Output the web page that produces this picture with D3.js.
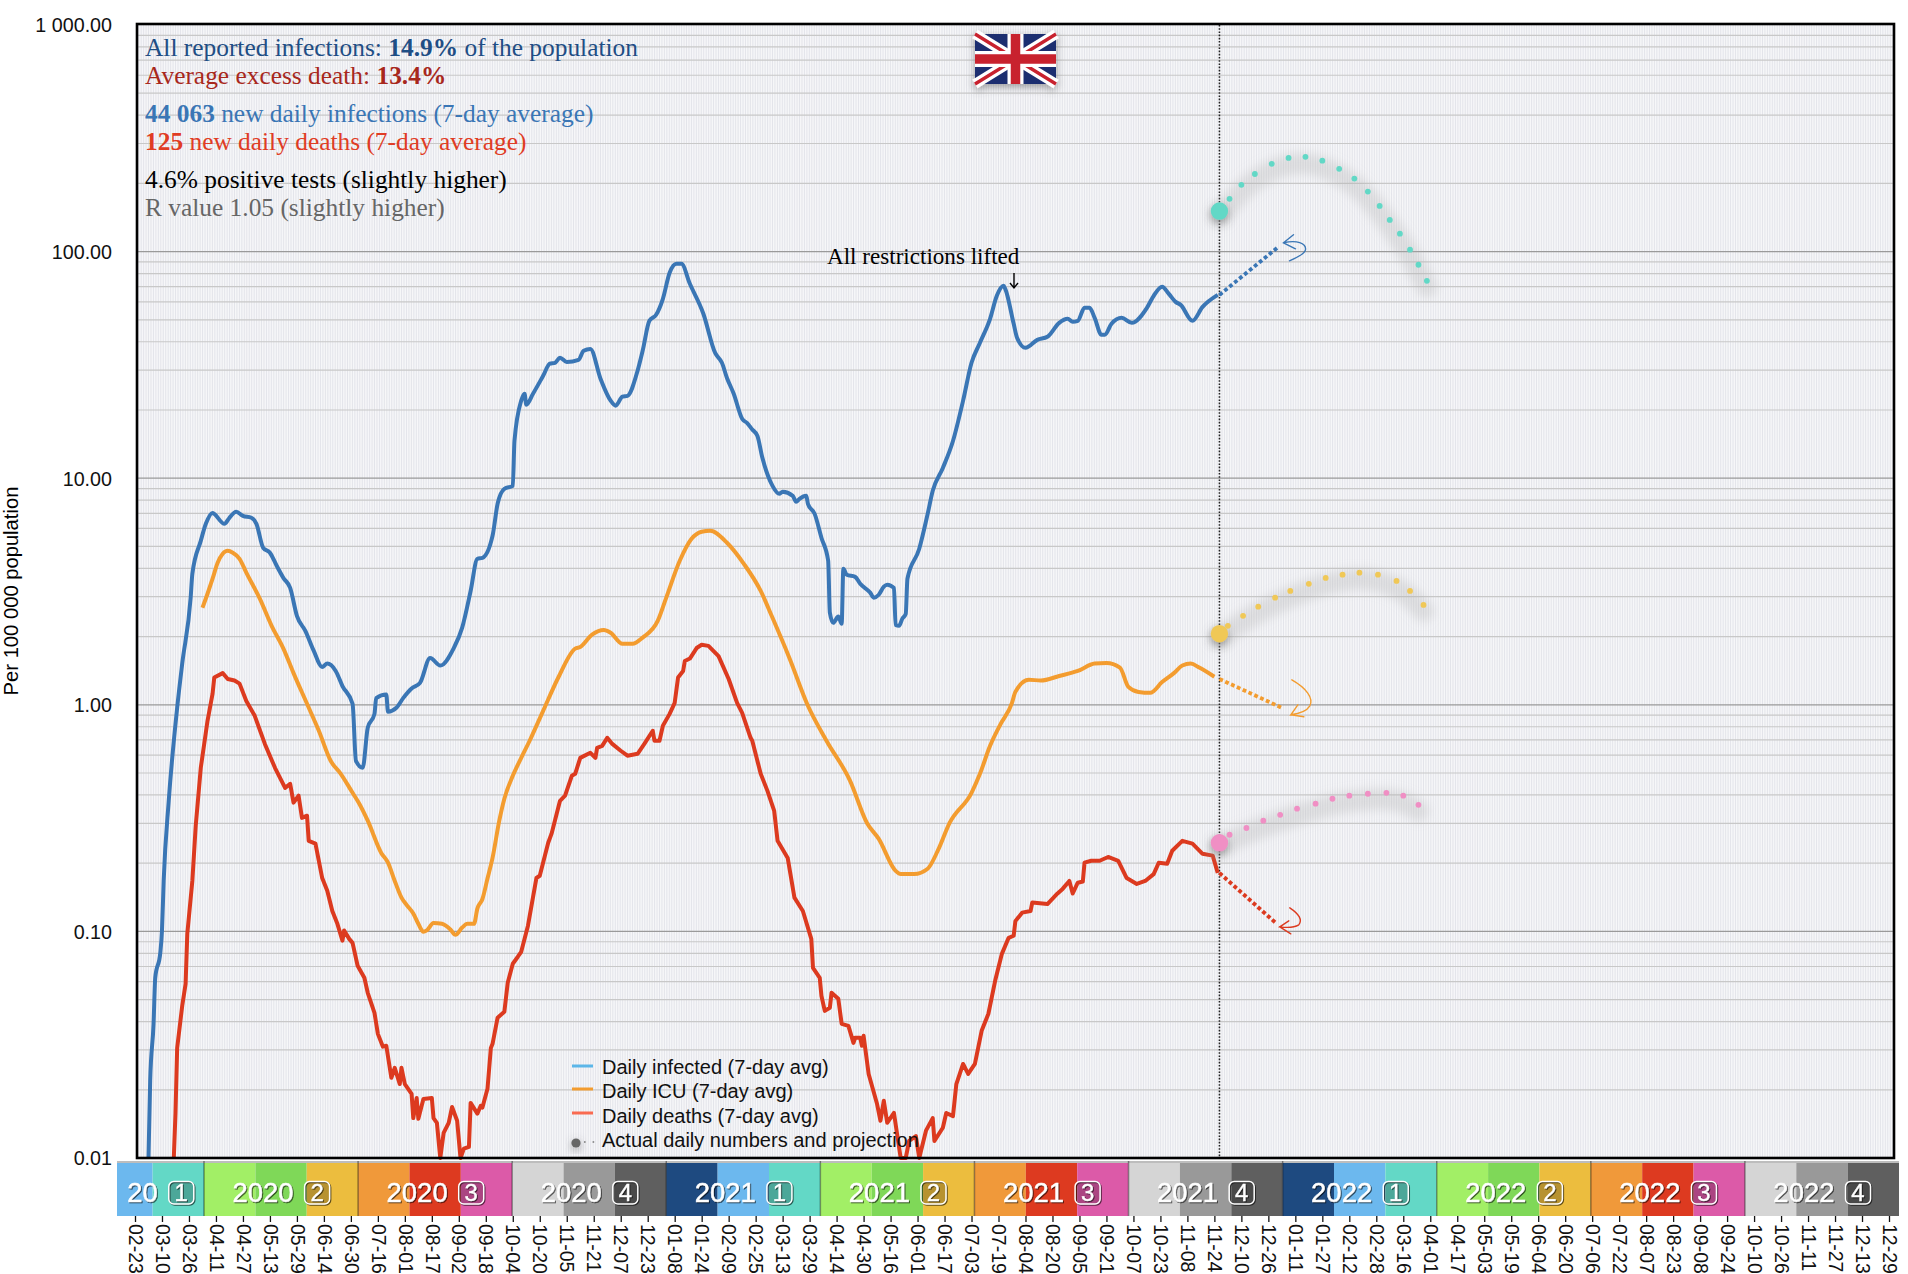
<!DOCTYPE html>
<meta charset="utf-8">
<title>UK covid per 100 000</title>
<script src="https://d3js.org/d3.v7.min.js"></script>
<style>
  body { margin: 0; background: white; }
  text { font-family: "Liberation Sans", sans-serif; }
  .note text, text.note { font-family: "Liberation Serif", serif; }
</style>
<svg id="chart" width="1908" height="1274"></svg>
<script>
// days counted from 2020-02-23, values are per 100 000
var startDate = "2020-02-23";

var infectedDays = [8,9,11,12,15,16,17,20,25,28,
  33,34,39,42,46,47,53,56,60,64,
  69,72,76,80,84,88,92,96,101,106,
  111,114,119,123,129,131,135,138,142,143,
  149,150,155,159,164,169,175,181,189,194,
  199,203,206,212,215,219,224,225,229,231,
  232,236,242,246,249,252,256,263,266,270,
  276,282,285,289,292,298,301,305,309,313,
  317,321,324,329,337,344,348,351,355,360,
  363,366,369,372,378,382,384,390,392,394,
  398,399,403,407,411,412,414,417,419,420,
  422,427,430,436,438,441,444,446,450,451,
  453,455,457,458,465,470,473,479,485,491,
  496,501,507,511,515,516,521,523,528,535,
  541,548,553,556,559,563,566,569,573,575,
  579,585,591,600,604,609,613,617,620,627,
  633,642];
var infectedValues = [.01,.0219,.0391,.0624,.0805,.101,.167,.377,.97,1.52,
  2.97,3.78,5.29,6.29,7.03,6.96,6.29,6.69,7.11,6.82,
  6.69,6.29,4.93,4.69,4.11,3.63,3.28,2.47,2.12,1.73,
  1.47,1.52,1.41,1.21,1.01,.566,.527,.792,.912,1.07,
  1.11,.932,.97,1.07,1.18,1.25,1.61,1.49,1.78,2.19,
  3.18,4.41,4.45,5.57,7.71,8.98,9.25,14.6,22,23.6,
  21.1,23.6,28.3,32,32.3,34,32.6,33.3,36.5,37.2,
  27.5,22,20.9,22.9,23.1,29.8,36.5,49.5,52.6,61.9,
  80.6,88.3,88.3,72.1,53.2,35.7,32.3,27.7,23.6,18.3,
  17.5,16.4,15.4,12.3,9.25,8.53,8.71,8.36,7.87,8.11,
  8.36,7.71,6.96,5.46,4.32,2.55,2.3,2.45,2.28,3.98,
  3.75,3.67,3.42,3.12,2.97,3.06,3.32,3.39,3.28,2.25,
  2.23,2.4,2.52,3.6,4.88,6.96,8.8,11.1,14.6,22,
  32.3,39.6,50.5,63.8,70.6,68.5,48,41.7,37.6,40.8,
  42.1,48.5,50.5,49,49.5,56.5,56.5,51,43,43,
  48,51,48.5,56.5,63.8,70,65.1,60,58.2,49.5,
  57,64.4];

var icuDays = [40,43,46,49,52,55,58,62,66,74,
  81,88,94,102,109,116,122,129,133,138,
  146,150,154,158,161,165,168,171,173,177,
  182,187,190,194,197,201,203,206,209,212,
  216,219,224,229,234,242,251,261,264,271,
  278,282,289,295,301,310,315,323,330,336,
  341,351,361,371,378,388,399,410,424,434,
  441,451,454,462,470,476,483,496,501,507,
  513,520,522,530,537,548,559,569,576,584,
  589,595,602,609,616,621,626,631,640];
var icuValues = [2.68,3.09,3.6,4.23,4.64,4.78,4.69,4.41,3.83,2.94,
  2.23,1.77,1.38,1.01,.768,.566,.496,.409,.366,.308,
  .222,.201,.167,.141,.131,.12,.108,.0996,.101,.109,
  .108,.102,.0966,.104,.108,.108,.126,.139,.171,.211,
  .308,.385,.486,.583,.694,.94,1.32,1.77,1.8,2.04,
  2.14,2.08,1.86,1.86,1.98,2.35,2.97,4.32,5.4,5.8,
  5.86,5.19,4.19,3.18,2.42,1.61,.99,.694,.462,.301,
  .256,.185,.179,.179,.189,.227,.301,.409,.496,.659,
  .816,1.02,1.14,1.29,1.28,1.34,1.41,1.52,1.53,1.46,
  1.2,1.14,1.13,1.26,1.38,1.49,1.52,1.46,1.33];

var deathDays = [23,24,25,28,30,31,34,36,39,43,
  46,47,52,55,59,62,66,71,77,83,
  89,92,94,97,99,102,103,107,111,114,
  117,120,123,124,127,129,132,136,138,142,
  144,147,149,152,154,157,158,160,164,165,
  167,168,171,176,177,179,181,183,186,188,
  191,193,195,198,199,203,205,206,209,211,
  212,215,219,221,224,227,229,233,238,240,
  245,247,252,255,259,261,264,270,273,274,
  277,280,283,288,292,298,302,307,308,311,
  313,317,320,322,325,326,329,333,336,340,
  346,352,357,360,365,366,371,375,379,381,
  387,391,396,401,402,406,407,409,412,413,
  417,419,423,426,427,430,431,432,435,440,
  442,444,446,450,454,457,459,463,465,469,
  473,474,479,481,485,487,491,494,498,502,
  506,510,514,518,521,522,526,531,532,541,
  547,550,554,556,559,562,563,567,572,577,
  583,588,594,599,604,607,612,615,621,627,
  633,639,642];
var deathValues = [.01,.0157,.0306,.047,.0587,.0975,.167,.292,.527,.85,
  1.12,1.32,1.38,1.3,1.28,1.24,1.04,.894,.672,.527,
  .43,.448,.37,.397,.317,.324,.251,.244,.172,.151,
  .123,.108,.091,.101,.0927,.089,.0705,.0624,.0536,.0437,
  .0353,.031,.0313,.0226,.025,.0212,.025,.0212,.0192,.015,
  .0184,.0149,.0182,.0184,.015,.0143,.01,.0129,.0143,.0168,
  .0146,.01,.011,.0112,.0175,.0157,.017,.0167,.0202,.0306,
  .0319,.0416,.0442,.0593,.072,.0773,.0813,.106,.172,.176,
  .246,.27,.377,.397,.486,.496,.583,.614,.583,.646,
  .659,.715,.672,.627,.596,.608,.672,.768,.694,.694,
  .808,.912,1.02,1.32,1.41,1.56,1.6,1.78,1.84,1.82,
  1.64,1.3,1.02,.922,.715,.694,.496,.417,.34,.251,
  .211,.141,.123,.0927,.069,.0624,.052,.0446,.046,.0536,
  .0504,.0391,.0383,.0322,.0339,.0339,.0313,.0346,.0235,.0173,
  .0146,.0179,.0143,.0158,.01,.01,.0119,.0125,.01,.0132,
  .015,.0119,.0136,.0158,.0153,.0212,.026,.0235,.026,.0364,
  .0433,.0605,.0796,.0937,.0957,.111,.121,.123,.134,.132,
  .147,.154,.167,.147,.164,.166,.201,.205,.205,.213,
  .205,.172,.162,.167,.179,.201,.199,.227,.251,.244,
  .22,.216,.181];

// projections after "today"
var todayDay = 643;
var infectedTrendDays = [643, 678], infectedTrendValues = [64.4, 105];
var icuTrendDays = [643, 680], icuTrendValues = [1.3, .97];
var deathTrendDays = [643, 677], deathTrendValues = [.181, .108];

// actual daily numbers, and the dotted curves after them
var tealNow = 151, yellowNow = 2.06, pinkNow = .246;
var tealDays = [649,656,664,674,684,694,704,714,723,731,738,744,750,756,761,766];
var tealValues = [171,197,220,244,259,262,252,232,210,184,159,138,120,102,87.5,74.3];
var yellowDays = [648,657,666,676,685,696,706,716,726,737,748,756,764];
var yellowValues = [2.23,2.47,2.71,2.97,3.18,3.42,3.63,3.75,3.83,3.75,3.52,3.18,2.76];
var pinkDays = [649,659,669,679,689,700,710,720,731,742,752,761];
var pinkValues = [.267,.286,.308,.327,.348,.366,.385,.397,.405,.409,.397,.362];

var yLabels = ["0.01","0.10","1.00","10.00","100.00","1 000.00"];
var yTicks = [.01,.1,1,10,100,1000];
var tickLabels = ["02-23","03-10","03-26","04-11","04-27","05-13","05-29","06-14","06-30","07-16","08-01","08-17","09-02","09-18","10-04","10-20","11-05","11-21","12-07","12-23",
  "01-08","01-24","02-09","02-25","03-13","03-29","04-14","04-30","05-16","06-01","06-17","07-03","07-19","08-04","08-20","09-05","09-21","10-07","10-23","11-08","11-24","12-10","12-26",
  "01-11","01-27","02-12","02-28","03-16","04-01","04-17","05-03","05-19","06-04","06-20","07-06","07-22","08-07","08-23","09-08","09-24","10-10","10-26","11-11","11-27","12-13","12-29"];
// month strip, Feb 2020 to Dec 2022
var monthColors = ["#1e4a80","#6cb8ee","#63d8c6","#a2ef66","#7fd858","#ecbd3e","#f0993a","#dd3a20","#dc5aa8","#d5d5d5","#999999","#5f5f5f"];
var quarterNames = ["20","2020","2020","2020","2021","2021","2021","2021","2022","2022","2022","2022"];
var quarterNums = [1,2,3,4,1,2,3,4,1,2,3,4];
var legendNames = ["Daily infected (7-day avg)","Daily ICU (7-day avg)","Daily deaths (7-day avg)","Actual daily numbers and projection"];
var legendColors = ["#5cb6e8","#f39c2f","#f96a50"];

var svg = d3.select("#chart");
var left = 137, right = 1894, top_ = 25, bottom = 1158;

var day0 = new Date(startDate + "T00:00:00Z");
var dayDate = d => d3.utcDay.offset(day0, d);
var x = d3.scaleUtc().domain([day0, dayDate(1040)]).range([135, 1889]);
var y = d3.scaleLog().domain([.01, 1000]).range([bottom, top_]);

var defs = svg.append("defs");
defs.append("filter").attr("id", "blur").attr("x", "-20%").attr("y", "-50%").attr("width", "140%").attr("height", "200%")
  .append("feGaussianBlur").attr("stdDeviation", 5);
defs.append("filter").attr("id", "soft").attr("x", "-60%").attr("y", "-60%").attr("width", "220%").attr("height", "220%")
  .append("feDropShadow").attr("dx", 0).attr("dy", 3).attr("stdDeviation", 4).attr("flood-color", "#555").attr("flood-opacity", .55);

// background: one thin line a day, then the log grid
svg.append("g").selectAll("line")
  .data(d3.range(2, 1044))
  .join("line")
    .attr("x1", d => x(dayDate(d))).attr("x2", d => x(dayDate(d)))
    .attr("y1", top_).attr("y2", bottom)
    .attr("stroke", "#dcdde4").attr("stroke-width", .8);

var minor = [];
yTicks.slice(0, -1).forEach(t => d3.range(2, 10).forEach(m => minor.push(t * m)));
svg.append("g").selectAll("line")
  .data(minor)
  .join("line")
    .attr("x1", left).attr("x2", right)
    .attr("y1", d => y(d)).attr("y2", d => y(d))
    .attr("stroke", "#c8c8c8").attr("stroke-width", 1.2);
svg.append("g").selectAll("line")
  .data(yTicks.slice(1, -1))
  .join("line")
    .attr("x1", left).attr("x2", right)
    .attr("y1", d => y(d)).attr("y2", d => y(d))
    .attr("stroke", "#9a9a9a").attr("stroke-width", 1.2);

// y labels
var yAxis = d3.axisLeft(y).tickValues(yTicks).tickFormat((d, i) => yLabels[i]).tickSize(0).tickPadding(0);
var yg = svg.append("g").attr("transform", "translate(112,0.5)").call(yAxis);
yg.select(".domain").remove();
yg.selectAll("text").attr("font-size", 19.7).attr("fill", "#111").attr("font-family", "Liberation Sans");

svg.append("text")
  .attr("transform", "translate(18,591) rotate(-90)")
  .attr("text-anchor", "middle").attr("font-size", 20.2)
  .text("Per 100 000 population");

// today
svg.append("line")
  .attr("x1", x(dayDate(todayDay))).attr("x2", x(dayDate(todayDay)))
  .attr("y1", top_).attr("y2", bottom)
  .attr("stroke", "#222").attr("stroke-width", 1.6).attr("stroke-dasharray", "1.6 1.6");

// curves
var line = d3.line().x(d => x(dayDate(d[0]))).y(d => y(d[1]));
var smooth = d3.line().curve(d3.curveMonotoneX).x(d => x(dayDate(d[0]))).y(d => y(d[1]));
function drawLine(gen, days, values, color) {
  svg.append("path")
    .attr("d", gen(d3.zip(days, values)))
    .attr("fill", "none").attr("stroke", color)
    .attr("stroke-width", 4).attr("stroke-linejoin", "round");
}
function drawTrend(days, values, color) {
  svg.append("path")
    .attr("d", line(d3.zip(days, values)))
    .attr("fill", "none").attr("stroke", color)
    .attr("stroke-width", 3.8).attr("stroke-dasharray", "3.8 2.6");
}
drawLine(smooth, icuDays, icuValues, "#f39c2f");
drawLine(line, deathDays, deathValues, "#dc3a1f");
drawLine(smooth, infectedDays, infectedValues, "#3a76b5");
drawTrend(icuTrendDays, icuTrendValues, "#f39c2f");
drawTrend(deathTrendDays, deathTrendValues, "#dc3a1f");
drawTrend(infectedTrendDays, infectedTrendValues, "#3a76b5");

// hand drawn arrows, placed from where each trend ends
function arrow(days, values, color, d) {
  svg.append("path")
    .attr("transform", `translate(${x(dayDate(days[1]))},${y(values[1])})`)
    .attr("d", d).attr("fill", "none").attr("stroke", color)
    .attr("stroke-width", 1.4).attr("stroke-linecap", "round");
}
arrow(infectedTrendDays, infectedTrendValues, "#3a76b5", "M15,-12L5,-4L17,2M5,-4C18,-7 28,-4 27,3C26,7 18,11 11,14");
arrow(icuTrendDays, icuTrendValues, "#f39c2f", "M10,-28C24,-20 32,-10 28,-2C25,3 16,6 9,7L16,-3M9,7L22,9");
arrow(deathTrendDays, deathTrendValues, "#dc3a1f", "M13,-16C22,-10 26,-4 22,1C17,4 10,4 3,3L12,-3M3,3L14,10");

// dotted outlook with a blurred band below it
function outlook(now, days, values, color) {
  var pts = d3.zip([todayDay].concat(days), [now].concat(values));
  svg.append("path")
    .attr("d", d3.line().curve(d3.curveBasis).x(d => x(dayDate(d[0]))).y(d => y(d[1]) + 6)(pts))
    .attr("fill", "none").attr("stroke", "#b0b0b0").attr("stroke-opacity", .3)
    .attr("stroke-width", 21).attr("stroke-linecap", "round").attr("filter", "url(#blur)");
  svg.append("circle")
    .attr("cx", x(dayDate(todayDay))).attr("cy", y(now)).attr("r", 8.7)
    .attr("fill", color).attr("filter", "url(#soft)");
  svg.append("g").selectAll("circle")
    .data(d3.zip(days, values))
    .join("circle")
      .attr("cx", d => x(dayDate(d[0]))).attr("cy", d => y(d[1])).attr("r", 2.9)
      .attr("fill", color);
}
outlook(tealNow, tealDays, tealValues, "#62d8c6");
outlook(yellowNow, yellowDays, yellowValues, "#f0c857");
outlook(pinkNow, pinkDays, pinkValues, "#f08fc4");

// plot frame
svg.append("rect")
  .attr("x", left).attr("y", 24).attr("width", right - left).attr("height", bottom - 24)
  .attr("fill", "none").attr("stroke", "black").attr("stroke-width", 2.6);

// notes at top left
var notes = [
  {y: 56, color: "#1f4e85", parts: [["All reported infections: ", 400], ["14.9%", 700], [" of the population", 400]]},
  {y: 84, color: "#a8281c", parts: [["Average excess death: ", 400], ["13.4%", 700]]},
  {y: 122, color: "#3a76b5", parts: [["44 063", 700], [" new daily infections (7-day average)", 400]]},
  {y: 150, color: "#e03c24", parts: [["125", 700], [" new daily deaths (7-day average)", 400]]},
  {y: 188, color: "#000000", parts: [["4.6% positive tests (slightly higher)", 400]]},
  {y: 216, color: "#666666", parts: [["R value 1.05 (slightly higher)", 400]]}
];
notes.forEach(n => {
  var t = svg.append("text").attr("class", "note").attr("x", 145).attr("y", n.y)
    .attr("font-size", 25.4).attr("fill", n.color);
  n.parts.forEach(p => t.append("tspan").attr("font-weight", p[1]).text(p[0]));
});

svg.append("text").attr("class", "note").attr("x", 827).attr("y", 264).attr("font-size", 23.1).text("All restrictions lifted");
svg.append("path").attr("d", "M1014,273V288M1010,283L1014,288L1018,283")
  .attr("fill", "none").attr("stroke", "black").attr("stroke-width", 1.4);

// flag
var flag = svg.append("g").attr("transform", "translate(975,34)").attr("filter", "url(#soft)");
flag.append("rect").attr("width", 81).attr("height", 50).attr("fill", "#1f2f6f");
flag.append("path").attr("d", "M0,0L81,50M81,0L0,50").attr("stroke", "white").attr("stroke-width", 10);
flag.append("path").attr("d", "M0,0L81,50M81,0L0,50").attr("stroke", "#c8202f").attr("stroke-width", 3.4);
flag.append("path").attr("d", "M40.5,0V50M0,25H81").attr("stroke", "white").attr("stroke-width", 16);
flag.append("path").attr("d", "M40.5,0V50M0,25H81").attr("stroke", "#c8202f").attr("stroke-width", 9.5);

// legend
var legY = [1066, 1089, 1113];
legendColors.forEach((c, i) => {
  svg.append("line").attr("x1", 572).attr("x2", 593).attr("y1", legY[i]).attr("y2", legY[i])
    .attr("stroke", c).attr("stroke-width", 3);
});
svg.append("circle").attr("cx", 576).attr("cy", 1143).attr("r", 4.6).attr("fill", "#666").attr("filter", "url(#soft)");
svg.append("line").attr("x1", 584).attr("x2", 596).attr("y1", 1142).attr("y2", 1142)
  .attr("stroke", "#777").attr("stroke-width", 1.6).attr("stroke-dasharray", "1.6 7");
svg.append("g").selectAll("text")
  .data(legendNames)
  .join("text")
    .attr("x", 602).attr("y", (d, i) => [1074, 1098, 1123, 1147][i])
    .attr("font-size", 20).attr("fill", "#111")
    .text(d => d);

// month strip keeps equal widths, so it has its own scale (month 3 = April 2020)
var bandX = d3.scaleLinear().domain([3, 36]).range([204, 1899]);
var bandLeft = 117;
var months = d3.range(1, 36);
var bands = svg.append("g");
bands.selectAll("rect")
  .data(months)
  .join("rect")
    .attr("x", d => Math.max(bandX(d), bandLeft))
    .attr("width", d => bandX(d + 1) - Math.max(bandX(d), bandLeft))
    .attr("y", 1163).attr("height", 53)
    .attr("fill", d => monthColors[d % 12]);
bands.append("rect").attr("x", bandLeft).attr("y", 1161)
  .attr("width", bandX(36) - bandLeft).attr("height", 2).attr("fill", "#bdbdbd");

quarterNames.forEach((name, i) => {
  var x0 = i ? bandX(i * 3) : bandLeft, x1 = bandX(i * 3 + 3);
  var mid = (x0 + x1) / 2;
  if (i > 0) bands.append("line").attr("x1", x0).attr("x2", x0).attr("y1", 1161).attr("y2", 1216)
    .attr("stroke", "#000").attr("stroke-opacity", .4).attr("stroke-width", 1.5);
  var g = bands.append("g").style("filter", "drop-shadow(1.5px 1.5px 0 rgba(0,0,0,.6))");
  var t = g.append("text").attr("y", 1202).attr("font-size", 27.5).attr("fill", "white")
    .attr("stroke", "white").attr("stroke-width", .5).text(name);
  var w = t.node().getComputedTextLength();
  var start = mid - (w + 36) / 2;
  t.attr("x", start);
  g.append("rect").attr("x", start + w + 11).attr("y", 1181.5).attr("width", 25).attr("height", 22.5).attr("rx", 5)
    .attr("fill", "#000").attr("fill-opacity", .15).attr("stroke", "white").attr("stroke-width", 1.5);
  g.append("text").attr("x", start + w + 23.5).attr("y", 1201).attr("text-anchor", "middle")
    .attr("font-size", 24).attr("fill", "white").attr("stroke", "white").attr("stroke-width", .4).text(quarterNums[i]);
});

// date axis, labels turned to read downward
var tickDates = tickLabels.map((d, i) => dayDate(i * 16));
var xAxis = d3.axisBottom(x).tickValues(tickDates).tickFormat((d, i) => tickLabels[i]).tickSize(6).tickPadding(0);
var xg = svg.append("g").attr("transform", "translate(0,1216)").call(xAxis);
xg.select(".domain").remove();
xg.selectAll(".tick line").attr("stroke", "#111").attr("stroke-width", 1.3);
xg.selectAll("text")
  .attr("transform", "translate(0,8) rotate(90)")
  .attr("dy", ".35em").attr("x", 0).attr("y", 0)
  .attr("text-anchor", "start").attr("font-size", 19.5).attr("fill", "#111")
  .attr("font-family", "Liberation Sans");
</script>
